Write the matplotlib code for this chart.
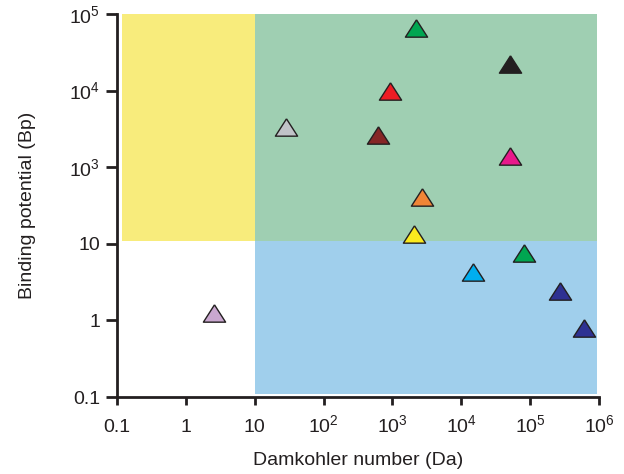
import numpy as np
import matplotlib
matplotlib.use("Agg")
import matplotlib.pyplot as plt
from matplotlib.ticker import FixedLocator, FixedFormatter, NullLocator

plt.rcParams['font.family'] = ['Liberation Sans', 'DejaVu Sans']
plt.rcParams['mathtext.fontset'] = 'custom'
plt.rcParams['mathtext.rm'] = 'Liberation Sans'
plt.rcParams['mathtext.it'] = 'Liberation Sans'

# ---- data ----
da_values = [2230, 50500, 910, 28, 620, 50500, 2700, 2050, 82000, 15000, 270000, 600000, 2.6]
bp_values = [65000, 22000, 10000, 3300, 2600, 1400, 170, 18, 7.5, 4.3, 2.4, 0.8, 1.26]
marker_colors = ['#00A651', '#231F20', '#ED1C24', '#C1C3C8', '#862626', '#E8198B',
                 '#F08536', '#FBEA1E', '#00A651', '#00AEEF', '#2E3192', '#2E3192', '#C9A7CF']

x_ticks = [0.1, 1, 10, 1e2, 1e3, 1e4, 1e5, 1e6]
x_tick_labels = ['0.1', '1', '10', r'$\mathregular{10^{2}}$', r'$\mathregular{10^{3}}$',
                 r'$\mathregular{10^{4}}$', r'$\mathregular{10^{5}}$', r'$\mathregular{10^{6}}$']
y_ticks = [0.1, 1, 10, 1e3, 1e4, 1e5]
y_tick_labels = ['0.1', '1', '10', r'$\mathregular{10^{3}}$', r'$\mathregular{10^{4}}$',
                 r'$\mathregular{10^{5}}$']

# region boundaries
da_split = 10
bp_split = 12
regions = [
    # (x0, x1, y0, y1, colour)
    (0.118, da_split, bp_split, 1.03e5, '#F8EC7C'),
    (da_split, 9.3e5, bp_split, 1.03e5, '#9FCFB2'),
    (da_split, 9.3e5, 0.11, bp_split, '#A0CFEC'),
]


# y axis: evenly spaced ticks as in the original (10 -> 10^3 spans one step)
def fwd(y):
    l = np.log10(np.maximum(np.asarray(y, dtype=float), 1e-300))
    return np.where(l <= 1, l, np.where(l >= 3, l - 1, 1 + (l - 1) / 2))


def inv(p):
    p = np.asarray(p, dtype=float)
    return np.where(p <= 1, 10 ** p, np.where(p >= 2, 10 ** (p + 1), 10 ** (1 + 2 * (p - 1))))


fig = plt.figure(figsize=(6.24, 4.74), dpi=100)
ax = fig.add_axes([0.1875, 0.1624, 0.7725, 0.8081])
ax.set_xscale('log')
ax.set_yscale('function', functions=(fwd, inv))
ax.set_xlim(0.1, 1e6)
ax.set_ylim(0.1, 1e5)

for x0, x1, y0, y1, c in regions:
    ax.fill_between([x0, x1], [y0, y0], [y1, y1], color=c, lw=0, zorder=1)

tri = [(0, 0.78), (-1, -0.78), (1, -0.78), (0, 0.78)]
for x, y, c in zip(da_values, bp_values, marker_colors):
    ax.plot([x], [y], marker=tri, markersize=16, markerfacecolor=c,
            markeredgecolor='#231F20', markeredgewidth=1.0, linestyle='none',
            zorder=3, clip_on=False)

ax.xaxis.set_major_locator(FixedLocator(x_ticks))
ax.xaxis.set_major_formatter(FixedFormatter(x_tick_labels))
ax.xaxis.set_minor_locator(NullLocator())
ax.yaxis.set_major_locator(FixedLocator(y_ticks))
ax.yaxis.set_major_formatter(FixedFormatter(y_tick_labels))
ax.yaxis.set_minor_locator(NullLocator())

for s in ['top', 'right']:
    ax.spines[s].set_visible(False)
for s in ['left', 'bottom']:
    ax.spines[s].set_linewidth(2.0)
    ax.spines[s].set_color('#231F20')

ax.tick_params(axis='y', direction='out', length=8, width=2.0, color='#231F20',
               labelsize=14, pad=4, labelcolor='#231F20')
ax.tick_params(axis='x', direction='out', length=6, width=2.0, color='#231F20',
               labelsize=14, pad=19, labelcolor='#231F20')
for t in ax.xaxis.get_major_ticks():
    t.label1.set_verticalalignment('baseline')

ax.set_xlabel('Damkohler number (Da)', fontsize=14, color='#231F20', labelpad=12)
ax.set_ylabel('Binding potential (Bp)', fontsize=14, color='#231F20', labelpad=24)

fig.savefig('out.png', dpi=100)
